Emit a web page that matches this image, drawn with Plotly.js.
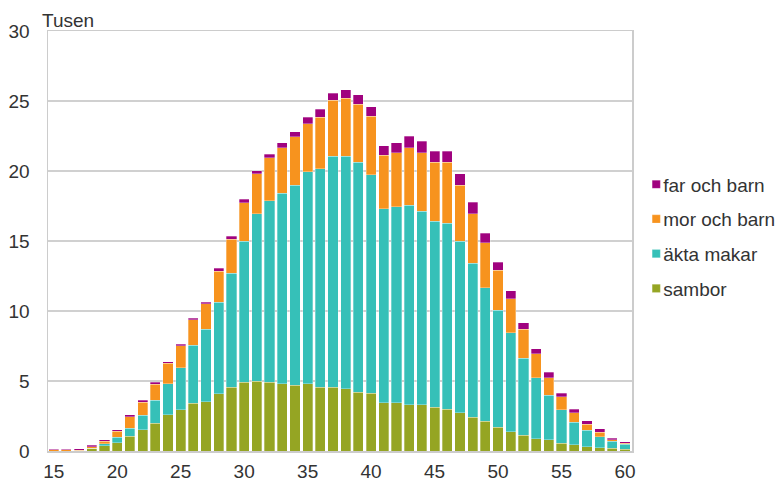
<!DOCTYPE html>
<html>
<head>
<meta charset="utf-8">
<script src="https://cdn.plot.ly/plotly-3.0.1.min.js"></script>
<style>
html,body{margin:0;padding:0;background:#fff;}
#chart{width:783px;height:481px;}
</style>
</head>
<body>
<div id="chart"></div>
<script>
// Age (ålder)
const ages = [15,16,17,18,19,20,21,22,23,24,25,26,27,28,29,30,31,32,33,34,35,36,37,38,39,40,41,42,43,44,45,46,47,48,49,50,51,52,53,54,55,56,57,58,59,60];
// Thousands (Tusen)
const sambor = [0,0,0.02,0.18,0.36,0.60,1.06,1.52,2.0,2.58,2.95,3.4,3.52,4.1,4.55,4.9,5.0,4.9,4.81,4.69,4.81,4.55,4.55,4.43,4.21,4.14,3.43,3.43,3.31,3.31,3.12,3.0,2.74,2.4,2.14,1.69,1.36,1.12,0.88,0.79,0.55,0.43,0.31,0.22,0.19,0.13];
const aktaMakar = [0,0,0,0.03,0.15,0.37,0.58,1.04,1.62,2.22,3.0,4.15,5.17,6.54,8.14,10.1,11.95,12.96,13.6,14.29,15.12,15.6,16.52,16.64,16.41,15.6,13.88,14.0,14.24,13.8,13.3,13.28,12.26,11.0,9.53,8.38,7.1,5.5,4.36,3.19,2.4,1.62,1.18,0.79,0.49,0.36];
const morOchBarn = [0.1,0.1,0.03,0.1,0.19,0.43,0.82,0.92,1.16,1.47,1.57,1.81,1.83,2.19,2.43,2.74,2.84,3.1,3.24,3.45,3.43,3.69,4.0,4.12,4.14,4.16,3.8,3.88,4.1,4.2,4.22,4.36,4.0,3.53,3.19,2.83,2.4,2.07,1.71,1.27,0.92,0.67,0.43,0.34,0.11,0.08];
const farOchBarn = [0.01,0.01,0.1,0.1,0.12,0.12,0.12,0.14,0.12,0.12,0.12,0.12,0.12,0.22,0.22,0.24,0.24,0.24,0.36,0.36,0.48,0.57,0.48,0.6,0.67,0.7,0.7,0.71,0.82,0.81,0.78,0.78,0.81,0.83,0.69,0.6,0.57,0.48,0.36,0.36,0.25,0.26,0.24,0.24,0.11,0.1];

const seriesNames = ['sambor','äkta makar','mor och barn','far och barn'];
const seriesValues = [sambor, aktaMakar, morOchBarn, farOchBarn];
const seriesColors = ['#95a523','#36c0b8','#f7931e','#a0027f'];
const legendRanks = [4,3,2,1];

const yTicks = [0,5,10,15,20,25,30];
const xTicks = [15,20,25,30,35,40,45,50,55,60];

const traces = seriesNames.map((n,i)=>({
  type:'bar',
  name:n,
  x:ages,
  y:seriesValues[i],
  legendgroup:'g'+i,
  legendrank:legendRanks[i],
  marker:{color:seriesColors[i], line:{color:'rgba(255,255,255,0.5)', width:0.6}},
  hoverinfo:'x+y+name'
}));

const font = {family:'"Liberation Sans", Arial, sans-serif', size:19, color:'#333333'};

const layout = {
  width:783, height:481,
  margin:{l:48, r:151, t:31, b:30, autoexpand:false},
  paper_bgcolor:'#ffffff', plot_bgcolor:'#ffffff',
  barmode:'stack', bargap:0.2,
  font:font,
  showlegend:true,
  legend:{
    traceorder:'grouped', tracegroupgap:7,
    x:0.985, xanchor:'left', y:0.68, yanchor:'top',
    font:font, bgcolor:'rgba(0,0,0,0)', borderwidth:0,
    itemwidth:30
  },
  xaxis:{
    range:[14.55,60.55], tickmode:'array', tickvals:xTicks, ticktext:xTicks.map(String),
    showgrid:false, zeroline:false, showline:true, mirror:true,
    linecolor:'#cccccc', linewidth:1.5, ticks:'', ticklabelstandoff:3,
    tickfont:font
  },
  yaxis:{
    range:[0,30], tickmode:'array', tickvals:yTicks, ticktext:yTicks.map(String),
    showgrid:true, gridcolor:'#d0d0d0', gridwidth:1.5, zeroline:false,
    showline:true, mirror:true, linecolor:'#cccccc', linewidth:1.5,
    ticks:'', ticklabelstandoff:13, tickfont:font
  },
  annotations:[{
    text:'Tusen', xref:'paper', yref:'paper', x:-0.014, y:1.0,
    xanchor:'left', yanchor:'bottom', showarrow:false, font:font, yshift:-2
  }]
};

Plotly.newPlot('chart', traces, layout, {displayModeBar:false, staticPlot:true}).then(gd=>{
  document.querySelectorAll('.legend .legendpoints path').forEach(p=>{
    p.setAttribute('transform','translate(33,0) scale(0.68)');
  });
});
</script>
</body>
</html>
